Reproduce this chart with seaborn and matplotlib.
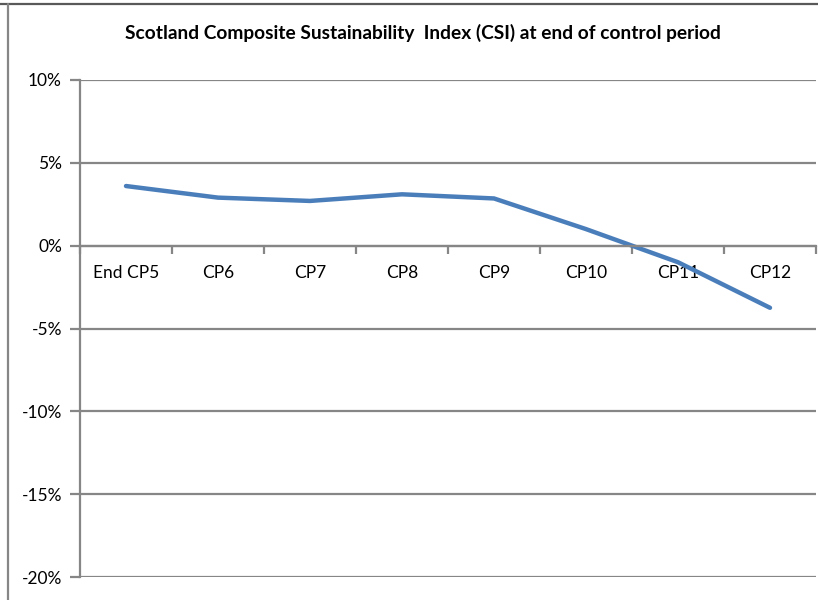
import matplotlib
matplotlib.use("Agg")
import matplotlib.pyplot as plt
import matplotlib.ticker as mticker
from matplotlib.lines import Line2D
import seaborn as sns
import pandas as pd

categories = ["End CP5", "CP6", "CP7", "CP8", "CP9", "CP10", "CP11", "CP12"]
csi_values = [0.036, 0.029, 0.027, 0.031, 0.0285, 0.010, -0.010, -0.0375]
y_ticks = [-0.20, -0.15, -0.10, -0.05, 0.0, 0.05, 0.10]

sns.set_theme(style="white")
plt.rcParams["font.family"] = ["Lato", "DejaVu Sans"]
plt.rcParams["axes.unicode_minus"] = False

df = pd.DataFrame({"period": categories, "csi": csi_values})

fig = plt.figure(figsize=(8.18, 6.0), dpi=100)
ax = fig.add_axes([80/818, 23/600, 736/818, 497/600])

sns.lineplot(data=df, x="period", y="csi", ax=ax, color="#4A7EBB",
             linewidth=3.2, sort=False)

ax.set_xlim(-0.5, len(categories) - 0.5)
ax.set_ylim(-0.20, 0.10)
ax.set_yticks(y_ticks)
ax.yaxis.set_major_formatter(mticker.PercentFormatter(1.0, decimals=0))
ax.grid(axis="y", color="#868686", linewidth=1.6)
ax.set_axisbelow(True)
ax.set_xlabel("")
ax.set_ylabel("")

for s in ["top", "right"]:
    ax.spines[s].set_visible(False)
ax.spines["left"].set_color("#868686")
ax.spines["left"].set_linewidth(1.6)
ax.spines["bottom"].set_position(("data", 0))
ax.spines["bottom"].set_color("#868686")
ax.spines["bottom"].set_linewidth(1.6)

ax.set_xticks(range(len(categories)))
ax.set_xticklabels(categories)
ax.set_xticks([i - 0.5 for i in range(len(categories) + 1)], minor=True)
ax.tick_params(axis="x", which="major", length=0, pad=14, labelsize=12.5, labelcolor="#000000")
ax.tick_params(axis="x", which="minor", length=6, width=1.6, color="#868686", direction="out", bottom=True)
ax.tick_params(axis="y", which="major", length=7, width=1.6, color="#868686", direction="out",
               left=True, pad=6, labelsize=12.5, labelcolor="#000000")

fig.text(423/818, 1 - 33/600,
         "Scotland Composite Sustainability  Index (CSI) at end of control period",
         ha="center", va="center", fontsize=13.8, fontweight="bold", color="#000000")

fig.add_artist(Line2D([0, 1], [1 - 3.5/600, 1 - 3.5/600], color="#595959", linewidth=1.6,
                      transform=fig.transFigure))
fig.add_artist(Line2D([8/818, 8/818], [0, 1 - 3.5/600], color="#868686", linewidth=1.6,
                      transform=fig.transFigure))

fig.savefig("out.png", dpi=100)
